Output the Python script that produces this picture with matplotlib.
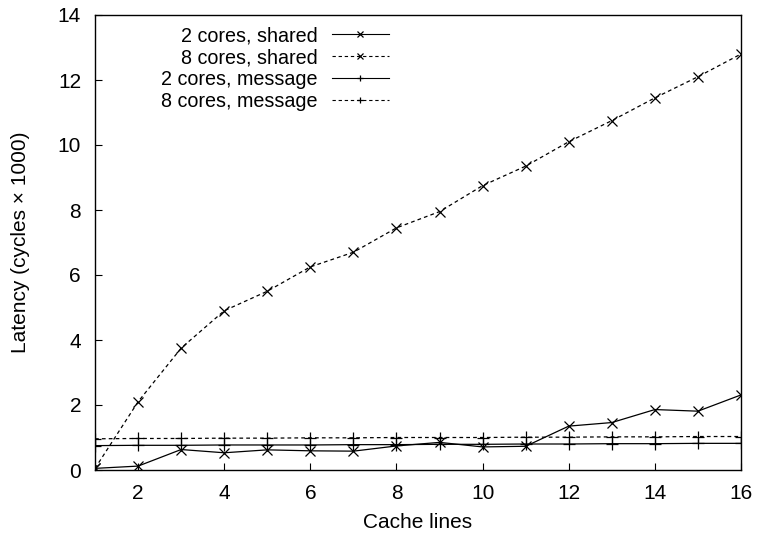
import matplotlib
matplotlib.use("Agg")
import matplotlib.pyplot as plt

plt.rcParams['font.family'] = ['Liberation Sans', 'DejaVu Sans']
plt.rcParams['font.size'] = 15

# latency in thousands of cycles vs number of cache lines
lines = list(range(1, 17))
shared_2 = [0.05, 0.12, 0.63, 0.53, 0.62, 0.59, 0.58, 0.74, 0.85, 0.71, 0.73, 1.35, 1.46, 1.86, 1.81, 2.31]
shared_8 = [0.05, 2.1, 3.75, 4.9, 5.5, 6.25, 6.7, 7.45, 7.95, 8.75, 9.35, 10.1, 10.75, 11.45, 12.1, 12.8]
message_2 = [0.75, 0.76, 0.76, 0.77, 0.77, 0.77, 0.78, 0.78, 0.79, 0.79, 0.80, 0.80, 0.81, 0.81, 0.82, 0.82]
message_8 = [0.96, 0.97, 0.97, 0.98, 0.98, 0.99, 0.99, 1.0, 1.0, 1.0, 1.01, 1.01, 1.02, 1.02, 1.03, 1.03]

fig = plt.figure(figsize=(7.57, 5.33), dpi=100)
ax = fig.add_axes([95/757, 1-470/533, (741-95)/757, (470-15)/533])

dash = (0, (3, 2.5))
ax.plot(lines, shared_2, color='black', lw=0.9, marker='x', ms=6.5, mew=0.9, label='2 cores, shared')
ax.plot(lines, shared_8, color='black', lw=0.9, ls=dash, marker='x', ms=6.5, mew=0.9, label='8 cores, shared')
ax.plot(lines, message_2, color='black', lw=0.9, marker='+', ms=8, mew=0.9, label='2 cores, message')
ax.plot(lines, message_8, color='black', lw=0.9, ls=dash, marker='+', ms=8, mew=0.9, label='8 cores, message')

ax.set_xlim(1, 16)
ax.set_ylim(0, 14)
ax.set_xticks(range(2, 17, 2))
ax.set_yticks(range(0, 15, 2))
ax.tick_params(direction='in', length=5, width=0.8, labelsize=15)
ax.tick_params(axis='x', pad=10)
ax.tick_params(axis='y', pad=10)
for s in ax.spines.values():
    s.set_linewidth(1.0)

ax.set_xlabel('Cache lines', labelpad=7)
ax.set_ylabel('Latency (cycles \u00d7 1000)', labelpad=20)

leg = ax.legend(loc='upper right', bbox_to_anchor=(0.455, 0.975), frameon=False, markerfirst=False,
                numpoints=1, handlelength=2.9, handletextpad=0.7, labelspacing=0.14,
                borderpad=0, borderaxespad=0, fontsize=14.2)
# smaller point symbols in the key
for h in leg.get_lines():
    h.set_markersize(5)
    h.set_linewidth(0.8)

fig.savefig('out.png', dpi=100)
